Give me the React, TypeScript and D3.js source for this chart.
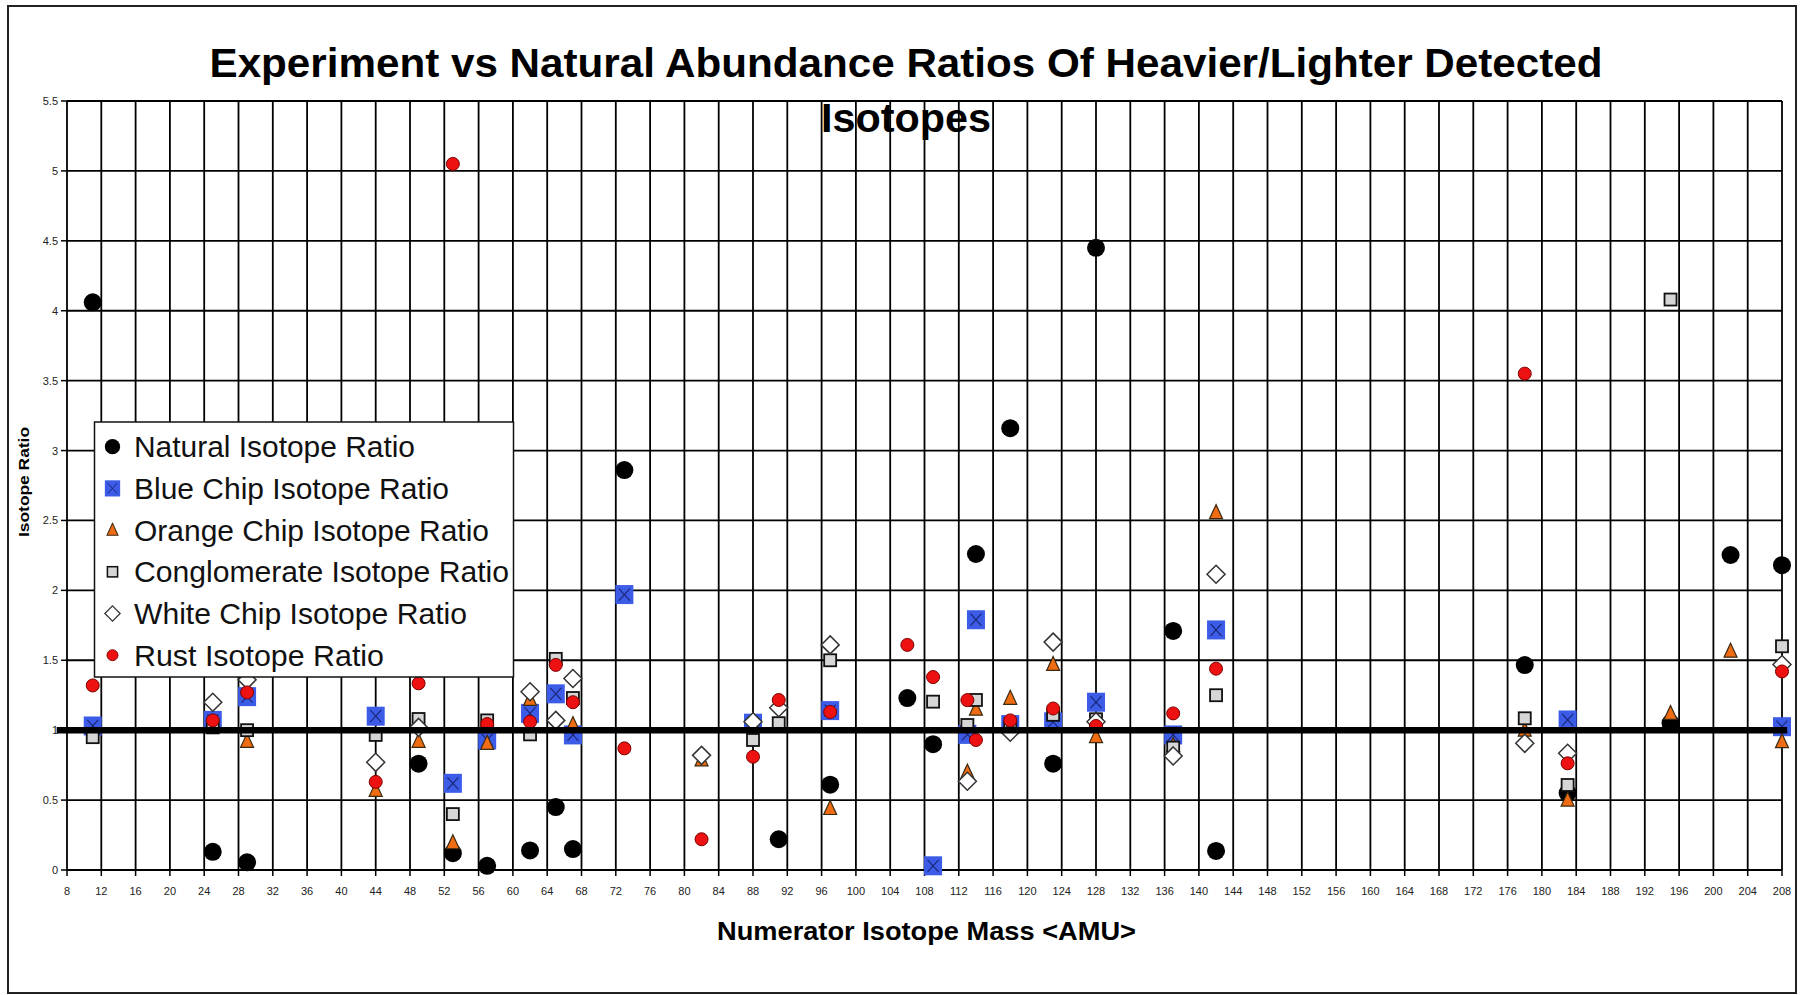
import React from 'react';
import * as d3 from 'd3';

const W = 1804;
const H = 995;
const FONT = 'Liberation Sans, Arial, Helvetica, sans-serif';

const xTicks = [8, 12, 16, 20, 24, 28, 32, 36, 40, 44, 48, 52, 56, 60, 64, 68, 72, 76, 80, 84, 88, 92, 96, 100, 104, 108, 112, 116, 120, 124, 128, 132, 136, 140, 144, 148, 152, 156, 160, 164, 168, 172, 176, 180, 184, 188, 192, 196, 200, 204, 208];
const yTicks = [0, 0.5, 1, 1.5, 2, 2.5, 3, 3.5, 4, 4.5, 5, 5.5];
const yTickLabels = ['0', '0.5', '1', '1.5', '2', '2.5', '3', '3.5', '4', '4.5', '5', '5.5'];

// [numerator mass, ratio]
const natural: [number, number][] = [[11, 4.06], [25, 0.13], [29, 0.055], [49, 0.76], [53, 0.12], [57, 0.03], [62, 0.14], [65, 0.45], [67, 0.15], [73, 2.86], [91, 0.22], [97, 0.61], [106, 1.23], [109, 0.9], [114, 2.26], [118, 3.16], [123, 0.76], [128, 4.45], [137, 1.71], [142, 0.136], [178, 1.466], [183, 0.55], [195, 1.05], [202, 2.253], [208, 2.18]];
const blueChip: [number, number][] = [[11, 1.03], [25, 1.07], [29, 1.24], [44, 1.1], [53, 0.62], [57, 0.93], [62, 1.12], [65, 1.26], [67, 0.966], [73, 1.97], [88, 1.05], [97, 1.14], [109, 0.03], [113, 0.97], [114, 1.79], [118, 1.04], [123, 1.06], [128, 1.2], [137, 0.966], [142, 1.717], [183, 1.073], [208, 1.025]];
const orangeChip: [number, number][] = [[29, 0.92], [44, 0.57], [49, 0.92], [53, 0.195], [57, 0.906], [62, 1.22], [67, 1.04], [82, 0.787], [97, 0.44], [113, 0.7], [114, 1.15], [118, 1.228], [123, 1.47], [128, 0.954], [137, 0.89], [142, 2.556], [178, 1.0], [183, 0.5], [195, 1.12], [202, 1.565], [208, 0.918]];
const conglomerate: [number, number][] = [[11, 0.95], [25, 1.02], [29, 1.0], [44, 0.966], [49, 1.08], [53, 0.4], [57, 1.07], [62, 0.97], [65, 1.51], [67, 1.23], [88, 0.93], [91, 1.05], [97, 1.5], [109, 1.204], [113, 1.037], [114, 1.216], [118, 1.02], [123, 1.11], [128, 1.078], [137, 0.875], [142, 1.25], [178, 1.085], [183, 0.608], [195, 4.08], [208, 1.6]];
const whiteChip: [number, number][] = [[25, 1.2], [29, 1.36], [44, 0.77], [49, 1.02], [62, 1.275], [65, 1.07], [67, 1.37], [82, 0.82], [88, 1.06], [91, 1.16], [97, 1.61], [113, 0.635], [118, 0.985], [123, 1.63], [128, 1.06], [137, 0.816], [142, 2.115], [178, 0.906], [183, 0.835], [208, 1.47]];
const rust: [number, number][] = [[11, 1.32], [25, 1.07], [29, 1.27], [44, 0.63], [49, 1.335], [53, 5.05], [57, 1.044], [62, 1.06], [65, 1.467], [67, 1.2], [73, 0.87], [82, 0.22], [88, 0.81], [91, 1.216], [97, 1.13], [106, 1.61], [109, 1.38], [113, 1.215], [114, 0.93], [118, 1.07], [123, 1.155], [128, 1.03], [137, 1.12], [142, 1.44], [178, 3.55], [183, 0.763], [208, 1.42]];

const seriesNames = ['Natural Isotope Ratio', 'Blue Chip Isotope Ratio', 'Orange Chip Isotope Ratio', 'Conglomerate Isotope Ratio', 'White Chip Isotope Ratio', 'Rust Isotope Ratio'];
const seriesShapes = ['natural', 'blue', 'orange', 'gray', 'white', 'rust'];
const seriesData = [natural, blueChip, orangeChip, conglomerate, whiteChip, rust];
const legendTextWidths = [281, 315, 355, 375, 333, 250];

const refLine = { from: 6.8, to: 208.6, value: 1 };

function Marker({ shape, cx, cy, s = 1 }: { shape: string; cx: number; cy: number; s?: number }) {
  const t = `translate(${cx},${cy}) scale(${s})`;
  switch (shape) {
    case 'natural':
      return <circle transform={t} r={9} fill="#000" />;
    case 'blue':
      return (
        <g transform={t}>
          <rect x={-9} y={-9.5} width={18} height={19} fill="#3c5ce8" />
          <path d="M-5.5,-6 L5.5,6 M5.5,-6 L-5.5,6" stroke="#1a2470" strokeWidth={1.1} />
        </g>
      );
    case 'orange':
      return <path transform={t} d="M0,-8 L6.5,6 L-6.5,6 Z" fill="#f06c12" stroke="#3a2a12" strokeWidth={1.2} />;
    case 'gray':
      return <rect transform={t} x={-6} y={-6} width={12} height={12} fill="#d6d6d6" stroke="#111" strokeWidth={1.8} />;
    case 'white':
      return <path transform={t} d="M0,-9 L9,0 L0,9 L-9,0 Z" fill="#fff" stroke="#333" strokeWidth={1.5} />;
    case 'rust':
      return <circle transform={t} r={6.5} fill="#ee1111" stroke="#7a0000" strokeWidth={1} />;
    default:
      return null;
  }
}

export default function App() {
  const x = d3.scaleLinear().domain([8, 208]).range([67, 1782]);
  const y = d3.scaleLinear().domain([0, 5.5]).range([870, 101]);
  const [x0, x1] = x.range();
  const [y0, y1] = y.range();

  const legend = { x: 94.5, y: 422, w: 419, h: 255, row0: 446.7, step: 41.7 };

  return (
    <svg width={W} height={H} style={{ position: 'absolute', left: 0, top: 0, background: '#fff' }} fontFamily={FONT}>
      <rect x={8} y={6} width={1788} height={987} fill="#fff" stroke="#222" strokeWidth={2} />

      {/* title */}
      <text x={906} y={77} fontSize={40} fontWeight="bold" textAnchor="middle" textLength={1393} lengthAdjust="spacingAndGlyphs" fill="#000">
        Experiment vs Natural Abundance Ratios Of Heavier/Lighter Detected
      </text>
      <text x={906} y={132} fontSize={40} fontWeight="bold" textAnchor="middle" textLength={170} lengthAdjust="spacingAndGlyphs" fill="#000">
        Isotopes
      </text>

      {/* grid */}
      {yTicks.map((v) => (
        <line key={'h' + v} x1={x0} x2={x1} y1={y(v)} y2={y(v)} stroke="#000" strokeWidth={1.8} />
      ))}
      {xTicks.map((v) => (
        <line key={'v' + v} x1={x(v)} x2={x(v)} y1={y0} y2={y1} stroke="#000" strokeWidth={1.8} />
      ))}
      {/* axis ticks */}
      {xTicks.map((v) => (
        <line key={'xt' + v} x1={x(v)} x2={x(v)} y1={y0} y2={y0 + 6} stroke="#000" strokeWidth={1.5} />
      ))}
      {yTicks.map((v) => (
        <line key={'yt' + v} x1={x0 - 6} x2={x0} y1={y(v)} y2={y(v)} stroke="#000" strokeWidth={1.5} />
      ))}

      {/* tick labels */}
      {xTicks.map((v) => (
        <text key={'xl' + v} x={x(v)} y={895} fontSize={11} textAnchor="middle" fill="#222">
          {v}
        </text>
      ))}
      {yTicks.map((v, i) => (
        <text key={'yl' + v} x={58} y={y(v) + 4} fontSize={11} textAnchor="end" fill="#222">
          {yTickLabels[i]}
        </text>
      ))}

      {/* axis titles */}
      <text x={926.5} y={940} fontSize={26} fontWeight="bold" textAnchor="middle" textLength={419} lengthAdjust="spacingAndGlyphs" fill="#000">
        Numerator Isotope Mass &lt;AMU&gt;
      </text>
      <text transform="translate(29,482) rotate(-90)" fontSize={14} fontWeight="bold" textAnchor="middle" textLength={110} lengthAdjust="spacingAndGlyphs" fill="#000">
        Isotope Ratio
      </text>

      {/* data */}
      {seriesData.map((data, si) => (
        <g key={'s' + si}>
          {data.map(([m, r], i) => (
            <Marker key={i} shape={seriesShapes[si]} cx={x(m)} cy={y(r)} />
          ))}
        </g>
      ))}

      {/* reference line at ratio 1 */}
      <line x1={x(refLine.from)} x2={x(refLine.to)} y1={y(refLine.value)} y2={y(refLine.value)} stroke="#000" strokeWidth={6.5} />

      {/* legend */}
      <rect x={legend.x} y={legend.y} width={legend.w} height={legend.h} fill="#fff" stroke="#111" strokeWidth={1.5} />
      {seriesNames.map((name, i) => {
        const cy = legend.row0 + i * legend.step;
        return (
          <g key={'lg' + i}>
            <Marker shape={seriesShapes[i]} cx={112.5} cy={cy} s={0.85} />
            <text x={134} y={cy + 10.5} fontSize={30} fill="#111" textLength={legendTextWidths[i]} lengthAdjust="spacingAndGlyphs">
              {name}
            </text>
          </g>
        );
      })}
    </svg>
  );
}
